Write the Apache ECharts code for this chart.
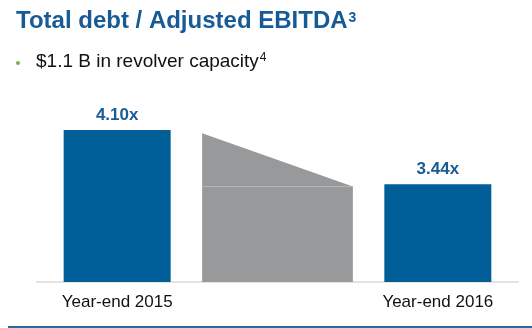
<!DOCTYPE html>
<html>
<head>
<meta charset="utf-8">
<script src="https://cdn.jsdelivr.net/npm/echarts@6/dist/echarts.min.js"></script>
<style>
  html, body { margin: 0; padding: 0; background: #fff; }
  #chart { width: 532px; height: 328px; }
</style>
</head>
<body>
<div id="chart"></div>
<script>
// Leverage ratio at each year end
var categories = ['Year-end 2015', '', 'Year-end 2016'];
var leverage = [4.10, null, 3.44];
// Grey bridge between the two bars: start and end heights
var bridge = [4.06, 3.41];
var titleText = 'Total debt / Adjusted EBITDA';
var titleNote = '3';
var bulletText = '$1.1 B in revolver capacity';
var bulletNote = '4';

var FONT = '"Liberation Sans", Arial, Helvetica, sans-serif';
var BLUE = '#005e99';
var AXIS_MIN = 2.25;

var chart = echarts.init(document.getElementById('chart'), null, { renderer: 'canvas' });

chart.setOption({
  backgroundColor: '#ffffff',
  animation: false,
  grid: { left: 37, right: 14, top: 97, bottom: 46 },
  xAxis: {
    type: 'category',
    data: categories,
    axisLine: { show: true, lineStyle: { color: '#e3e3e3', width: 2 } },
    axisTick: { show: false },
    axisLabel: {
      margin: 12,
      fontFamily: FONT,
      fontSize: 17,
      color: '#111111'
    }
  },
  yAxis: {
    type: 'value',
    min: AXIS_MIN,
    max: 4.5,
    show: false,
    splitLine: { show: false }
  },
  series: [
    {
      type: 'custom',
      data: [[1, bridge[0], bridge[1]]],
      renderItem: function (params, api) {
        var idx = api.value(0);
        var c = api.coord([idx, AXIS_MIN]);
        var w = api.size([1, 0])[0] * 0.94;
        var xl = c[0] - w / 2, xr = c[0] + w / 2;
        var yl = api.coord([idx, api.value(1)])[1];
        var yr = api.coord([idx, api.value(2)])[1];
        return {
          type: 'group',
          children: [
            {
              type: 'polygon',
              shape: { points: [[xl, c[1]], [xl, yl], [xr, yr], [xr, c[1]]] },
              style: { fill: '#97999b' }
            },
            {
              type: 'line',
              shape: { x1: xl, y1: yr, x2: xr, y2: yr },
              style: { stroke: '#b4b6b8', lineWidth: 1 }
            }
          ]
        };
      },
      z: 2
    },
    {
      type: 'bar',
      data: leverage,
      barWidth: 107,
      itemStyle: { color: BLUE },
      label: {
        show: true,
        position: 'top',
        distance: 6,
        fontFamily: FONT,
        fontWeight: 'bold',
        fontSize: 17,
        color: '#1b5b93',
        formatter: function (p) { return p.value.toFixed(2) + 'x'; }
      },
      z: 3
    }
  ],
  graphic: [
    {
      type: 'text',
      left: 16,
      top: 8,
      style: {
        text: '{t|' + titleText + '}{s|' + titleNote + '}',
        rich: {
          t: { fontFamily: FONT, fontWeight: 'bold', fontSize: 24, fill: '#175a96', lineHeight: 26 },
          s: { fontFamily: FONT, fontWeight: 'bold', fontSize: 14, fill: '#175a96', verticalAlign: 'top', lineHeight: 26, padding: [3, 0, 0, 1] }
        }
      }
    },
    {
      type: 'circle',
      shape: { cx: 18, cy: 63, r: 2 },
      style: { fill: '#78b043' }
    },
    {
      type: 'text',
      left: 36,
      top: 51,
      style: {
        text: '{t|' + bulletText + '}{s|' + bulletNote + '}',
        rich: {
          t: { fontFamily: FONT, fontSize: 19, fill: '#111111', lineHeight: 21 },
          s: { fontFamily: FONT, fontSize: 12, fill: '#111111', verticalAlign: 'top', lineHeight: 21, padding: [1, 0, 0, 1] }
        }
      }
    },
    {
      type: 'rect',
      shape: { x: 8, y: 326, width: 524, height: 2 },
      style: { fill: '#2b6a9f' }
    }
  ]
});
</script>
</body>
</html>
